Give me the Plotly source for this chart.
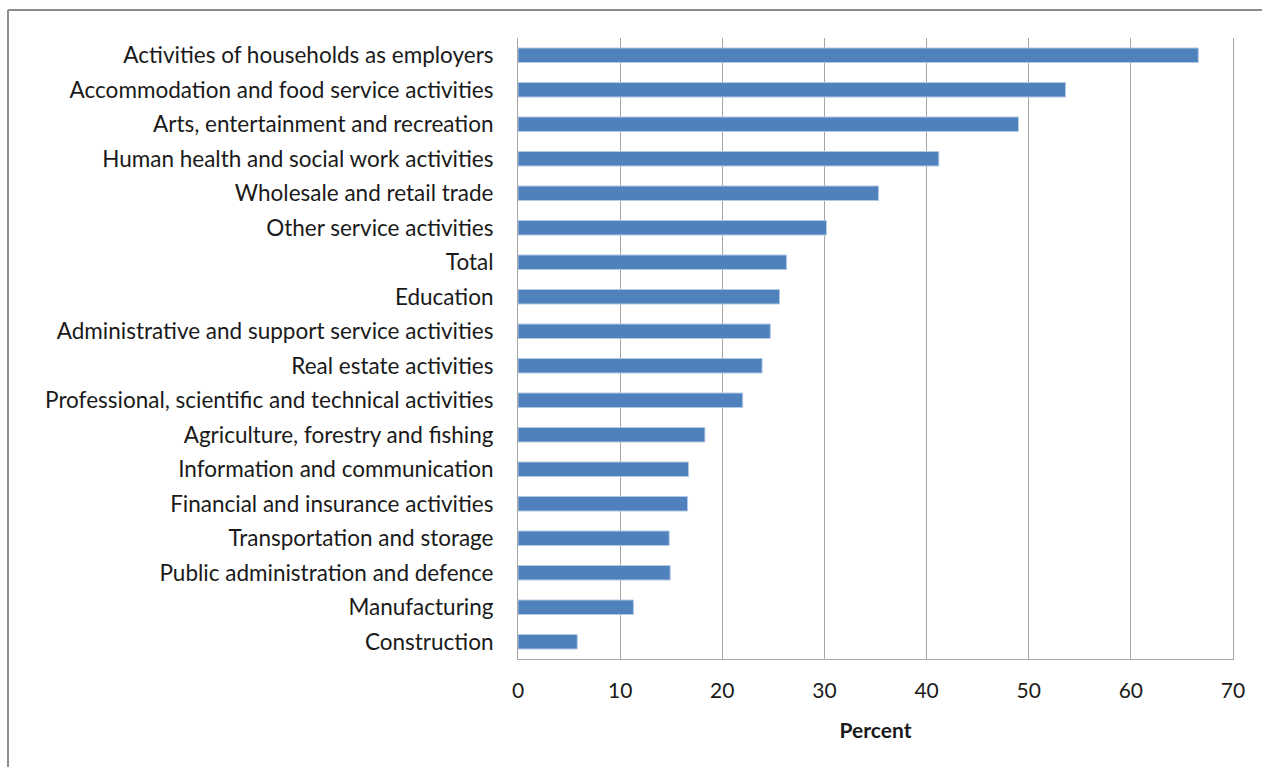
import plotly.graph_objects as go

# Share of employees by economic activity (percent)
activities = [
    "Activities of households as employers",
    "Accommodation and food service activities",
    "Arts, entertainment and recreation",
    "Human health and social work activities",
    "Wholesale and retail trade",
    "Other service activities",
    "Total",
    "Education",
    "Administrative and support service activities",
    "Real estate activities",
    "Professional, scientific and technical activities",
    "Agriculture, forestry and fishing",
    "Information and communication",
    "Financial and insurance activities",
    "Transportation and storage",
    "Public administration and defence",
    "Manufacturing",
    "Construction",
]
percent = [66.6, 53.6, 49.0, 41.2, 35.3, 30.2, 26.3, 25.6, 24.7, 23.9,
           22.0, 18.3, 16.7, 16.6, 14.8, 14.9, 11.3, 5.8]
x_ticks = [0, 10, 20, 30, 40, 50, 60, 70]

FONT = "Lato, 'Liberation Sans', sans-serif"
GRID = "#a6a6a6"

fig = go.Figure(
    go.Bar(
        x=percent,
        y=activities,
        orientation="h",
        marker=dict(color="#4f81bd", line=dict(color="#b4c9e3", width=1)),
        width=0.42,
    )
)

fig.update_layout(
    width=1262,
    height=767,
    margin=dict(l=518, r=29, t=38, b=108),
    paper_bgcolor="white",
    plot_bgcolor="white",
    showlegend=False,
    font=dict(family=FONT, size=20, color="#1a1a1a"),
    xaxis=dict(
        range=[0, 70],
        tickvals=x_ticks,
        ticks="",
        showgrid=True,
        gridcolor=GRID,
        gridwidth=1,
        showline=True,
        linecolor=GRID,
        linewidth=1,
        mirror=False,
        zeroline=False,
        tickfont=dict(size=21),
        ticklabelstandoff=13,
        title=dict(text="<b>Percent</b>", font=dict(size=21), standoff=22),
    ),
    yaxis=dict(
        categoryorder="array",
        categoryarray=activities[::-1],
        range=[-0.5, len(activities) - 0.5],
        showgrid=False,
        showline=True,
        linecolor=GRID,
        linewidth=1,
        mirror=True,
        ticks="",
        zeroline=False,
        tickfont=dict(size=22.5),
        ticklabelstandoff=19,
    ),
    shapes=[
        # outer chart frame (top and left edges)
        dict(type="line", xref="paper", yref="paper",
             x0=(8 - 518) / 715, x1=(1262 - 518) / 715,
             y0=(659 - 10) / 621, y1=(659 - 10) / 621,
             line=dict(color="#8c8c8c", width=2)),
        dict(type="line", xref="paper", yref="paper",
             x0=(8 - 518) / 715, x1=(8 - 518) / 715,
             y0=(659 - 10) / 621, y1=(659 - 767) / 621,
             line=dict(color="#8c8c8c", width=2)),
    ],
)

fig.write_html("out.html")
